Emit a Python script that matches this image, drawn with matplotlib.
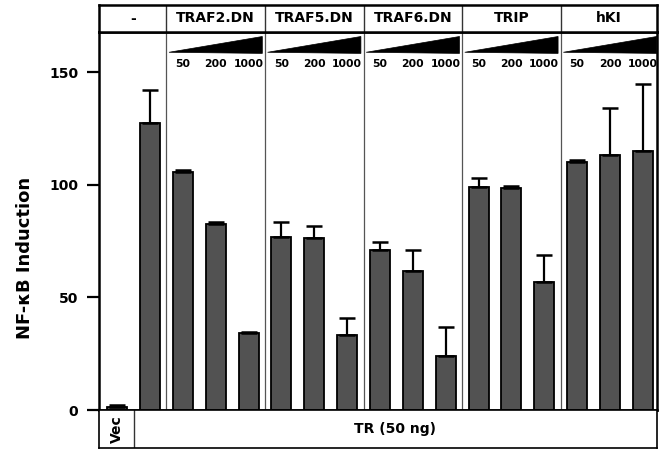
import matplotlib
matplotlib.use("Agg")
import matplotlib.pyplot as plt
from matplotlib.patches import Polygon
import numpy as np

plt.rcParams['font.family'] = ['DejaVu Sans']
plt.rcParams['font.weight'] = 'bold'

groups = ['-', 'TRAF2.DN', 'TRAF5.DN', 'TRAF6.DN', 'TRIP', 'hKI']
group_sizes = [2, 3, 3, 3, 3, 3]
doses = ['50', '200', '1000']
values = [1.5, 127.5, 105.5, 82.5, 34, 77, 76.5, 33.5, 71, 61.5, 24, 99, 98.5, 57, 110, 113, 115]
errors = [0.8, 14.5, 1.0, 0.8, 0.6, 6.5, 5.0, 7.5, 3.5, 9.5, 13.0, 4.0, 1.0, 12.0, 0.8, 21.0, 29.5]
yticks = [0, 50, 100, 150]
ylabel = 'NF-κB Induction'
vec_label = 'Vec'
tr_label = 'TR (50 ng)'

W, H = 661, 451
fig = plt.figure(figsize=(W / 100, H / 100), dpi=100)

def pos(x0, x1, ytop, ybot):
    return [x0 / W, 1 - ybot / H, (x1 - x0) / W, (ybot - ytop) / H]

XL = (-0.55, 16.43)
x = np.arange(len(values))
bounds = np.cumsum(group_sizes)[:-1] - 0.5

# main axes
ax = fig.add_axes(pos(99, 657, 32, 410))
ax.bar(x, values, width=0.61, color='#525252', edgecolor='black', linewidth=1.3, zorder=3)
ax.errorbar(x, values, yerr=[np.zeros(len(errors)), errors], fmt='none', ecolor='black',
            elinewidth=1.6, capsize=6, capthick=1.8, zorder=4)
ax.set_xlim(*XL)
ax.set_ylim(0, 167.8)
ax.set_xticks([])
ax.set_yticks(yticks)
ax.set_yticklabels([str(t) for t in yticks], fontsize=10, fontweight='bold')
ax.tick_params(axis='y', length=9, width=1.6, pad=6)
for s in ax.spines.values():
    s.set_linewidth(1.8)
for b in bounds:
    ax.axvline(b, color='#555555', lw=0.9, zorder=1)

# wedges and dose labels
start = group_sizes[0]
for gs in group_sizes[1:]:
    g0 = start
    tri = Polygon([[g0 - 0.42, 158.8], [g0 + 2.42, 165.8], [g0 + 2.42, 158.3]], closed=True,
                  facecolor='black', edgecolor='black', lw=0.5, zorder=3)
    ax.add_patch(tri)
    for k, d in enumerate(doses):
        ax.text(g0 + k, 153.8, d, ha='center', va='center', fontsize=7.8, fontweight='bold')
    start += gs

fig.text(25 / W, 1 - 258 / H, ylabel, rotation=90, ha='center', va='center',
         fontsize=13, fontweight='bold')

# header axes
hx = fig.add_axes(pos(99, 657, 5, 32))
hx.set_xlim(*XL)
hx.set_ylim(0, 1)
hx.set_xticks([]); hx.set_yticks([])
for s in hx.spines.values():
    s.set_linewidth(1.8)
edges = np.concatenate([[XL[0]], bounds, [XL[1]]])
for b in bounds:
    hx.axvline(b, color='#333333', lw=1.0)
for i, g in enumerate(groups):
    hx.text((edges[i] + edges[i + 1]) / 2, 0.5, g, ha='center', va='center',
            fontsize=10, fontweight='bold')

# bottom axes
bx = fig.add_axes(pos(99, 657, 410, 448))
bx.set_xlim(*XL)
bx.set_ylim(0, 1)
bx.set_xticks([]); bx.set_yticks([])
for s in bx.spines.values():
    s.set_linewidth(1.2)
bx.axvline(0.5, color='#333333', lw=1.0)
bx.text(0, 0.5, vec_label, rotation=90, ha='center', va='center', fontsize=10, fontweight='bold')
bx.text((0.5 + XL[1]) / 2, 0.5, tr_label, ha='center', va='center', fontsize=10, fontweight='bold')

fig.savefig('out.png', dpi=100)
